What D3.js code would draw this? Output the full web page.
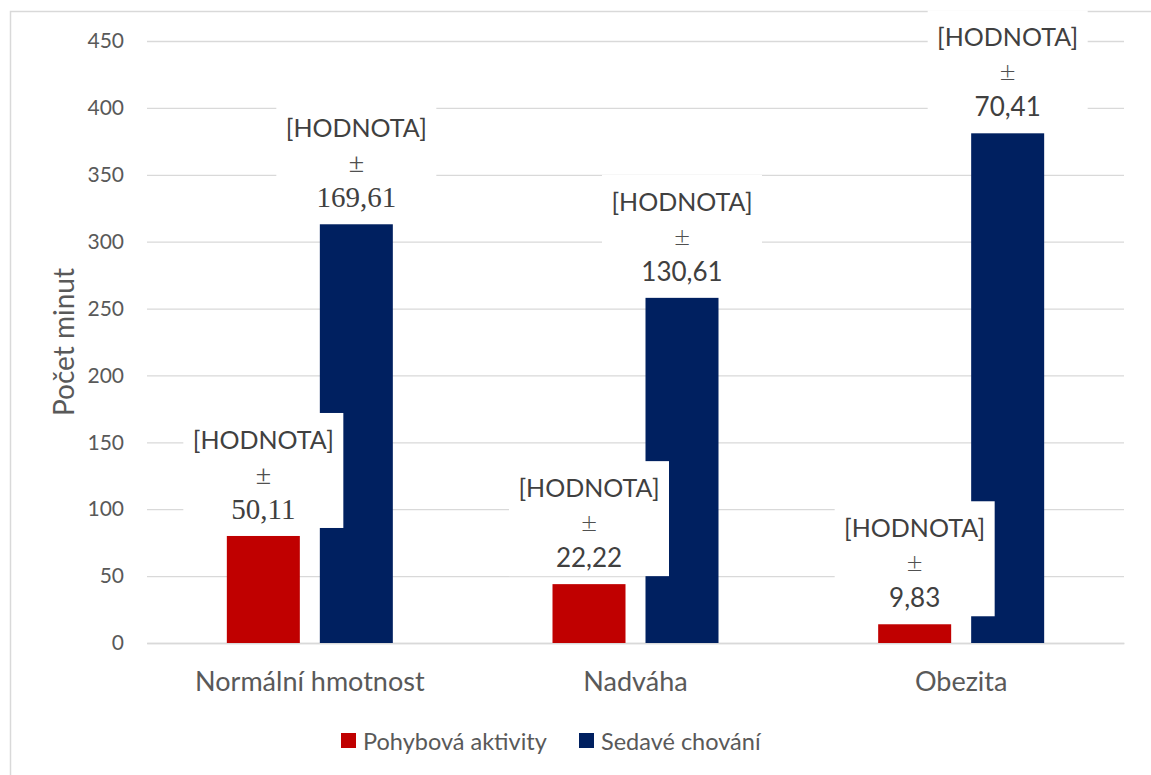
<!DOCTYPE html>
<html>
<head>
<meta charset="utf-8">
<script src="https://cdn.jsdelivr.net/npm/d3@7"></script>
<style>
  html, body { margin: 0; padding: 0; background: #fff; }
  svg { display: block; }
</style>
</head>
<body>
<svg id="chart" width="1151" height="775"></svg>
<script>
// Průměrný počet minut podle kategorie BMI
const categories = ["Normální hmotnost", "Nadváha", "Obezita"];
const seriesNames = ["Pohybová aktivity", "Sedavé chování"];
const pohybovaAktivita = [80, 44, 14];
const sedaveChovani = [313, 258, 381];
// směrodatné odchylky zobrazené v popiscích
const sdPohybova = ["50,11", "22,22", "9,83"];
const sdSedave = ["169,61", "130,61", "70,41"];
const yTicks = [0, 50, 100, 150, 200, 250, 300, 350, 400, 450];
const yTitle = "Počet minut";

const colors = { "Pohybová aktivity": "#c00000", "Sedavé chování": "#002060" };
const sans = "Lato, 'Open Sans', sans-serif";
const serif = "'Liberation Serif', 'DejaVu Serif', serif";
// popisky první kategorie jsou sázeny patkovým písmem
const serifCategories = new Set(["Normální hmotnost"]);

const svg = d3.select("#chart");

// rámeček grafu
svg.append("rect")
  .attr("x", 10.5).attr("y", 11.5)
  .attr("width", 1160).attr("height", 790)
  .attr("fill", "#fff").attr("stroke", "#d9d9d9").attr("stroke-width", 1.5);

const plot = { left: 147, right: 1124, top: 41, bottom: 643 };

const y = d3.scaleLinear().domain([0, 450]).range([plot.bottom, plot.top]);
const x0 = d3.scaleBand().domain(categories).range([plot.left, plot.right]);
const bw = x0.bandwidth();
const x1 = d3.scaleBand().domain(seriesNames)
  .range([bw / 2 - 83, bw / 2 + 83]).paddingInner(20 / 93);

// mřížka
const grid = svg.append("g")
  .attr("transform", `translate(${plot.left},0)`)
  .call(d3.axisLeft(y).tickValues(yTicks).tickSize(-(plot.right - plot.left)).tickFormat(""));
grid.select(".domain").remove();
grid.selectAll(".tick line").attr("stroke", "#d9d9d9").attr("stroke-width", 1.3);

// popisky osy y
const yAxis = svg.append("g")
  .attr("transform", `translate(${plot.left - 23},0)`)
  .call(d3.axisLeft(y).tickValues(yTicks).tickSize(0).tickPadding(0));
yAxis.select(".domain").remove();
yAxis.selectAll("text")
  .attr("font-family", sans).attr("font-size", 21).attr("fill", "#595959");

// název osy y
svg.append("text")
  .attr("transform", `translate(63,${(plot.top + plot.bottom) / 2}) rotate(-90)`)
  .attr("text-anchor", "middle").attr("dominant-baseline", "central")
  .attr("font-family", sans).attr("font-size", 28).attr("fill", "#595959")
  .text(yTitle);

// popisky kategorií
const xAxis = svg.append("g")
  .attr("transform", `translate(0,${plot.bottom})`)
  .call(d3.axisBottom(x0).tickSize(0).tickPadding(0));
xAxis.select(".domain").attr("stroke", "#d9d9d9").attr("stroke-width", 1.3);
xAxis.selectAll("text")
  .attr("dy", null).attr("y", 48)
  .attr("font-family", sans).attr("font-size", 27).attr("fill", "#595959");

const rows = categories.map((c, i) => ({
  category: c,
  values: [
    { series: seriesNames[0], value: pohybovaAktivita[i], sd: sdPohybova[i] },
    { series: seriesNames[1], value: sedaveChovani[i], sd: sdSedave[i] }
  ]
}));

const groups = svg.append("g").selectAll("g.cat")
  .data(rows).join("g")
  .attr("class", "cat")
  .attr("transform", d => `translate(${x0(d.category)},0)`);

groups.selectAll("rect.bar")
  .data(d => d.values).join("rect")
  .attr("class", "bar")
  .attr("x", d => x1(d.series))
  .attr("y", d => y(d.value))
  .attr("width", x1.bandwidth())
  .attr("height", d => y(0) - y(d.value))
  .attr("fill", d => colors[d.series]);

// popisky dat: bílý podklad a tři řádky textu
const labels = groups.selectAll("g.lbl")
  .data(d => d.values.map(v => ({ ...v, category: d.category }))).join("g")
  .attr("class", "lbl")
  .attr("transform", d => `translate(${x1(d.series) + x1.bandwidth() / 2},${y(d.value)})`);

labels.append("rect")
  .attr("x", -80).attr("y", -123)
  .attr("width", 160).attr("height", 115)
  .attr("fill", "#fff");

labels.append("text")
  .attr("text-anchor", "middle").attr("y", -87)
  .attr("font-family", sans).attr("font-size", 25).attr("fill", "#404040")
  .text("[HODNOTA]");
labels.append("text")
  .attr("text-anchor", "middle").attr("y", -52)
  .attr("font-family", d => serifCategories.has(d.category) ? serif : sans)
  .attr("font-size", 28).attr("font-weight", 300).attr("fill", "#505050")
  .text("±");
labels.append("text")
  .attr("text-anchor", "middle").attr("y", -17)
  .attr("font-family", d => serifCategories.has(d.category) ? serif : sans)
  .attr("font-size", d => serifCategories.has(d.category) ? 29 : 26)
  .attr("fill", "#404040")
  .text(d => d.sd);

// legenda
const legendItems = [
  { name: seriesNames[0], x: 341 },
  { name: seriesNames[1], x: 579 }
];
const legend = svg.append("g").selectAll("g")
  .data(legendItems).join("g")
  .attr("transform", d => `translate(${d.x},741)`);
legend.append("rect")
  .attr("x", 0).attr("y", -8).attr("width", 15).attr("height", 15)
  .attr("fill", d => colors[d.name]);
legend.append("text")
  .attr("x", 22).attr("y", 0).attr("dominant-baseline", "central")
  .attr("font-family", sans).attr("font-size", 23.5).attr("fill", "#595959")
  .text(d => d.name);
</script>
</body>
</html>
